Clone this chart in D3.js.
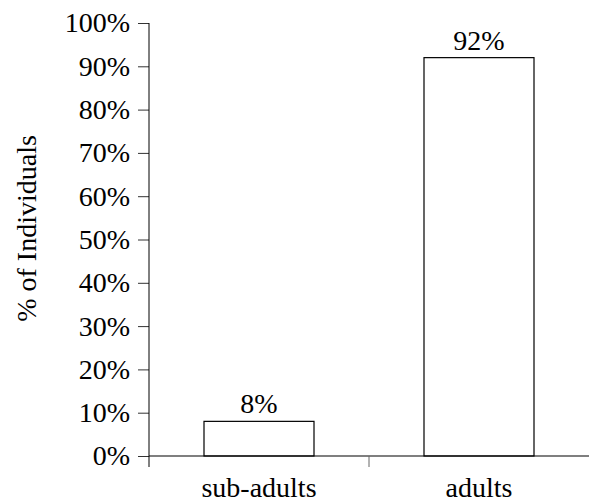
<!DOCTYPE html>
<html>
<head>
<meta charset="utf-8">
<script src="https://cdn.jsdelivr.net/npm/d3@7"></script>
<style>
  html, body { margin: 0; padding: 0; background: #fff; }
  svg text { font-family: "Liberation Serif", "Times New Roman", serif; fill: #000; }
</style>
</head>
<body>
<svg id="chart" width="589" height="504"></svg>
<script>
// Share of individuals by age class
const categories = ["sub-adults", "adults"];
const values = [8, 92];
const valueLabels = ["8%", "92%"];
const yTicks = [0, 10, 20, 30, 40, 50, 60, 70, 80, 90, 100];

const svg = d3.select("#chart");
const margin = { left: 149, right: 0, top: 23, bottom: 48 };
const width = 589, height = 504;
const plotBottom = height - margin.bottom;
const fontSize = "28px";

const x = d3.scaleBand()
  .domain(categories)
  .range([margin.left, width - margin.right])
  .paddingInner(0.5)
  .paddingOuter(0.25);

const y = d3.scaleLinear()
  .domain([0, 100])
  .range([plotBottom, margin.top]);

// Bars
svg.append("g")
  .selectAll("rect")
  .data(values)
  .join("rect")
  .attr("x", (d, i) => x(categories[i]))
  .attr("y", d => y(d))
  .attr("width", x.bandwidth())
  .attr("height", d => y(0) - y(d))
  .attr("fill", "#fff")
  .attr("stroke", "#000")
  .attr("stroke-width", 1.2);

// Value labels above bars
svg.append("g")
  .selectAll("text")
  .data(values)
  .join("text")
  .attr("x", (d, i) => x(categories[i]) + x.bandwidth() / 2)
  .attr("y", d => y(d) - 8)
  .attr("text-anchor", "middle")
  .style("font-size", fontSize)
  .text((d, i) => valueLabels[i]);

// Y axis
const yAxis = svg.append("g")
  .attr("transform", `translate(${margin.left},0)`)
  .call(d3.axisLeft(y).tickValues(yTicks).tickFormat(d => d + "%").tickSize(11).tickSizeOuter(0).tickPadding(8));
yAxis.select(".domain").remove();
yAxis.append("line")
  .attr("x1", 0).attr("x2", 0)
  .attr("y1", margin.top).attr("y2", plotBottom + 11)
  .attr("stroke", "#000");
yAxis.selectAll(".tick line").attr("stroke", "#333");
yAxis.selectAll(".tick text")
  .style("font-size", fontSize)
  .style("font-family", "'Liberation Serif', serif")
  .attr("fill", "#000");

// X axis: ticks sit on the boundaries between categories
const xAxisG = svg.append("g");
xAxisG.append("line")
  .attr("x1", margin.left).attr("x2", width - margin.right)
  .attr("y1", plotBottom).attr("y2", plotBottom)
  .attr("stroke", "#000")
  .attr("stroke-width", 1.2);
const boundaries = categories.slice(1).map((c, i) => (x(categories[i]) + x.bandwidth() + x(c)) / 2);
xAxisG.selectAll("line.sep")
  .data(boundaries)
  .join("line")
  .attr("class", "sep")
  .attr("x1", d => d).attr("x2", d => d)
  .attr("y1", plotBottom).attr("y2", plotBottom + 11)
  .attr("stroke", "#666");
xAxisG.selectAll("text")
  .data(categories)
  .join("text")
  .attr("x", d => x(d) + x.bandwidth() / 2)
  .attr("y", plotBottom + 41)
  .attr("text-anchor", "middle")
  .style("font-size", fontSize)
  .text(d => d);

// Y axis title
svg.append("text")
  .attr("transform", `translate(36, ${(margin.top + plotBottom) / 2 - 11}) rotate(-90)`)
  .attr("text-anchor", "middle")
  .style("font-size", fontSize)
  .text("% of Individuals");
</script>
</body>
</html>
